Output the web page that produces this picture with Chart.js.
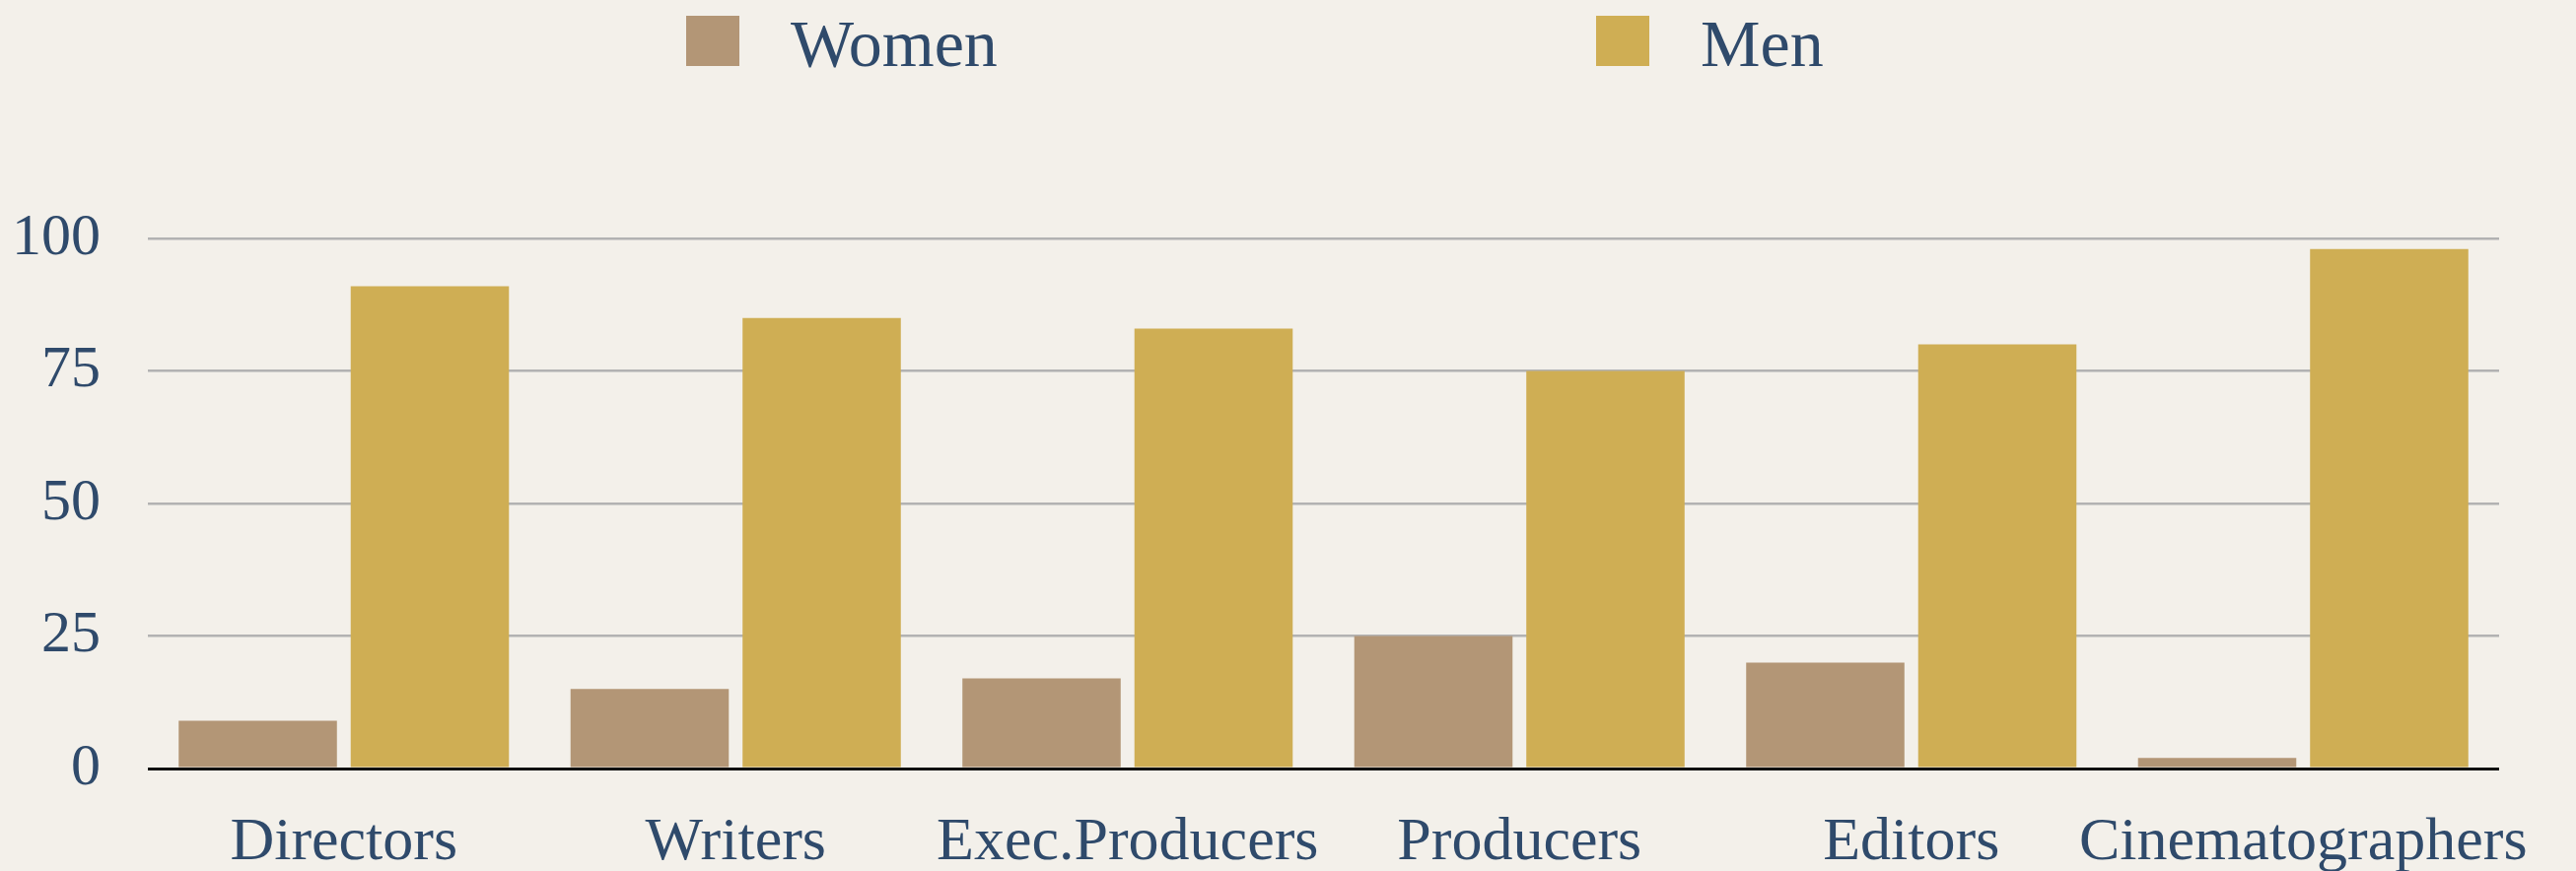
<!DOCTYPE html>
<html lang="en">

<head>
    <meta charset="UTF-8">
    <title>Women and Men behind the camera</title>
    <script src="https://cdn.jsdelivr.net/npm/chart.js"></script>
    <style>
        html, body { margin: 0; padding: 0; background: #f3f0ea; }
        canvas { display: block; }
    </style>
</head>

<body>
    <canvas id="myChart" width="2613" height="884"></canvas>

    <script>
        // data
        const categories = ['Directors', 'Writers', 'Exec.Producers', 'Producers', 'Editors', 'Cinematographers'];
        const womenValues = [9, 15, 17, 25, 20, 2];
        const menValues = [91, 85, 83, 75, 80, 98];
        const yTicks = [0, 25, 50, 75, 100];

        const textColor = '#2f4a6b';
        const fontFamily = "'Palatino Linotype', Palatino, 'Liberation Serif', serif";

        // legend spread wide across the top, like the original
        const spreadLegend = {
            id: 'spreadLegend',
            afterDraw(chart, args, opts) {
                const ctx = chart.ctx;
                ctx.save();
                ctx.font = opts.size + 'px ' + fontFamily;
                ctx.textBaseline = 'alphabetic';
                ctx.textAlign = 'left';
                chart.data.datasets.forEach((ds, i) => {
                    const x = opts.xs[i];
                    ctx.fillStyle = ds.backgroundColor;
                    ctx.fillRect(x, opts.top, opts.boxW, opts.boxH);
                    ctx.fillStyle = textColor;
                    ctx.fillText(ds.label, x + opts.textGap, opts.baseline);
                });
                ctx.restore();
            }
        };

        const ctx = document.getElementById('myChart');

        const myChart = new Chart(ctx, {
            type: 'bar',
            data: {
                labels: categories,
                datasets: [{
                    label: 'Women',
                    data: womenValues,
                    backgroundColor: '#b39676',
                    borderWidth: 0,
                    categoryPercentage: 0.878,
                    barPercentage: 0.92
                }, {
                    label: 'Men',
                    data: menValues,
                    backgroundColor: '#cfae54',
                    borderWidth: 0,
                    categoryPercentage: 0.878,
                    barPercentage: 0.92
                }]
            },
            plugins: [spreadLegend],
            options: {
                responsive: false,
                devicePixelRatio: 1,
                animation: false,
                layout: {
                    padding: { top: 242, right: 78, bottom: 0, left: 0 }
                },
                plugins: {
                    legend: { display: false },
                    tooltip: { enabled: false },
                    spreadLegend: {
                        xs: [696, 1619],
                        top: 16,
                        boxW: 54,
                        boxH: 51,
                        textGap: 106,
                        baseline: 67,
                        size: 68
                    }
                },
                scales: {
                    x: {
                        grid: { display: false, drawTicks: false },
                        border: { display: false },
                        ticks: {
                            color: textColor,
                            padding: 39,
                            maxRotation: 0,
                            autoSkip: false,
                            font: { family: fontFamily, size: 62 }
                        },
                        afterFit(scale) { scale.height = 104; }
                    },
                    y: {
                        min: 0,
                        max: 100,
                        afterBuildTicks(scale) {
                            scale.ticks = yTicks.map(v => ({ value: v }));
                        },
                        grid: {
                            drawTicks: false,
                            color: c => c.tick.value === 0 ? '#111111' : '#b2b2b2',
                            lineWidth: c => c.tick.value === 0 ? 3 : 2.5
                        },
                        border: { display: false },
                        ticks: {
                            color: textColor,
                            padding: 48,
                            font: { family: fontFamily, size: 60 }
                        },
                        afterFit(scale) { scale.width = 150; }
                    }
                }
            }
        });
    </script>
</body>

</html>
